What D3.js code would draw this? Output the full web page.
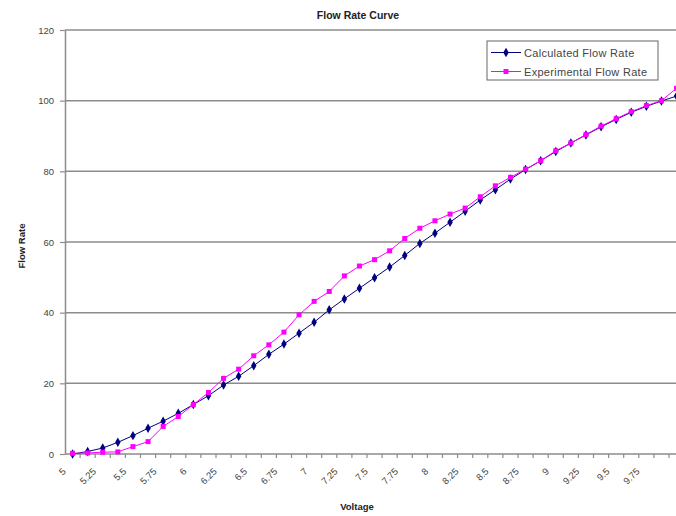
<!DOCTYPE html>
<html>
<head>
<meta charset="utf-8">
<script src="https://cdn.jsdelivr.net/npm/d3@7"></script>
<style>
  html, body { margin: 0; padding: 0; background: #fff; overflow: hidden; }
  svg { display: block; font-family: "Liberation Sans", Arial, sans-serif; }
</style>
</head>
<body>
<script>
// Voltage steps (0.125 V apart)
const voltages = d3.range(41).map(i => 5 + i * 0.125);

// Calculated flow rate per voltage step
const calculated = [0, 0.7, 1.7, 3.3, 5.2, 7.3, 9.3, 11.5, 14, 16.5,
  19.5, 22, 25, 28.2, 31.1, 34.2, 37.3, 40.8, 43.9, 46.9,
  49.9, 52.9, 56.2, 59.6, 62.5, 65.6, 68.7, 71.9, 74.8, 77.8,
  80.5, 83, 85.6, 88, 90.3, 92.6, 94.7, 96.7, 98.4, 99.9, 101.3];

// Measured flow rate per voltage step
const experimental = [0.2, 0.3, 0.5, 0.6, 2.1, 3.5, 7.8, 10.6, 14, 17.4,
  21.4, 24, 27.8, 30.9, 34.5, 39.4, 43.2, 46, 50.4, 53.2,
  55, 57.5, 61, 63.9, 66, 67.9, 69.6, 72.8, 75.9, 78.3,
  80.6, 83, 85.8, 88, 90.4, 92.8, 94.9, 96.9, 98.6, 100, 103.5];

// Axis labels shown on the category axis
const xTickLabels = ["5", "5.25", "5.5", "5.75", "6", "6.25", "6.5", "6.75", "7", "7.25",
  "7.5", "7.75", "8", "8.25", "8.5", "8.75", "9", "9.25", "9.5", "9.75"];
const yTicks = [0, 20, 40, 60, 80, 100, 120];

const W = 676, H = 516;
const plotLeft = 65, plotTop = 30, plotBottom = 454;
const step = 15.1;
const plotRight = plotLeft + step * voltages.length;

const svg = d3.select("body").append("svg")
  .attr("width", W).attr("height", H);

const x = d3.scaleBand()
  .domain(voltages.map(String))
  .range([plotLeft, plotRight])
  .paddingInner(0).paddingOuter(0);

const y = d3.scaleLinear().domain([0, 120]).range([plotBottom, plotTop]);

const grey = "#8c8c8c";

// Horizontal gridlines
svg.append("g").selectAll("line")
  .data(yTicks.filter(d => d > 0))
  .join("line")
  .attr("x1", plotLeft).attr("x2", plotRight)
  .attr("y1", d => y(d)).attr("y2", d => y(d))
  .attr("stroke", grey).attr("stroke-width", 1.5);

// Value axis
const yAxis = svg.append("g")
  .attr("transform", `translate(${plotLeft},0)`)
  .call(d3.axisLeft(y).tickValues(yTicks).tickSize(5).tickPadding(6).tickSizeOuter(0));
yAxis.select(".domain").attr("stroke", grey).attr("stroke-width", 1.5);
yAxis.selectAll(".tick line").attr("stroke", grey).attr("stroke-width", 1.2);
yAxis.selectAll(".tick text")
  .attr("font-size", "9.5px").attr("fill", "#444")
  .attr("font-family", "Liberation Sans, Arial, sans-serif");

// Category axis line and tick marks at category boundaries
svg.append("line")
  .attr("x1", plotLeft).attr("x2", plotRight)
  .attr("y1", plotBottom).attr("y2", plotBottom)
  .attr("stroke", grey).attr("stroke-width", 1.5);

svg.append("g").selectAll("line")
  .data(voltages.map(String))
  .join("line")
  .attr("x1", d => x(d) + x.bandwidth()).attr("x2", d => x(d) + x.bandwidth())
  .attr("y1", plotBottom).attr("y2", plotBottom + 4)
  .attr("stroke", grey).attr("stroke-width", 1.2);

// Rotated category labels, every second category
const cx = v => x(String(v)) + x.bandwidth() / 2;
svg.append("g").selectAll("text")
  .data(xTickLabels)
  .join("text")
  .attr("transform", d => `translate(${cx(+d) - 6},${plotBottom + 18}) rotate(-45)`)
  .attr("text-anchor", "end")
  .attr("font-size", "9.5px")
  .attr("fill", "#444")
  .text(d => d);

// Series lines and markers
const line = d3.line()
  .x((d, i) => cx(voltages[i]))
  .y(d => y(d));

const navy = "#000080", magenta = "#ff00ff";

svg.append("path")
  .datum(calculated)
  .attr("d", line)
  .attr("fill", "none").attr("stroke", navy).attr("stroke-width", 1);

svg.append("g").selectAll("path")
  .data(calculated)
  .join("path")
  .attr("d", d3.symbol(d3.symbolDiamond, 26))
  .attr("transform", (d, i) => `translate(${cx(voltages[i])},${y(d)})`)
  .attr("fill", navy);

svg.append("path")
  .datum(experimental)
  .attr("d", line)
  .attr("fill", "none").attr("stroke", magenta).attr("stroke-width", 1);

svg.append("g").selectAll("rect")
  .data(experimental)
  .join("rect")
  .attr("x", (d, i) => cx(voltages[i]) - 2.5)
  .attr("y", d => y(d) - 2.5)
  .attr("width", 5).attr("height", 5)
  .attr("fill", magenta);

// Titles
svg.append("text")
  .attr("x", 358).attr("y", 19)
  .attr("text-anchor", "middle")
  .attr("font-size", "10.5px").attr("font-weight", "bold").attr("fill", "#222")
  .text("Flow Rate Curve");

svg.append("text")
  .attr("x", 357).attr("y", 510)
  .attr("text-anchor", "middle")
  .attr("font-size", "9.5px").attr("font-weight", "bold").attr("fill", "#222")
  .text("Voltage");

svg.append("text")
  .attr("transform", `translate(25,${(plotTop + plotBottom) / 2 + 4}) rotate(-90)`)
  .attr("text-anchor", "middle")
  .attr("font-size", "9.5px").attr("font-weight", "bold").attr("fill", "#222")
  .text("Flow Rate");

// Legend
const legend = svg.append("g").attr("transform", "translate(487,41)");
legend.append("rect")
  .attr("width", 171).attr("height", 39)
  .attr("fill", "#fff").attr("stroke", "#666").attr("stroke-width", 1);

const entries = [
  { name: "Calculated Flow Rate", color: navy, marker: "diamond" },
  { name: "Experimental Flow Rate", color: magenta, marker: "square" }
];
const row = legend.selectAll("g.entry")
  .data(entries)
  .join("g")
  .attr("class", "entry")
  .attr("transform", (d, i) => `translate(0,${11.5 + i * 19})`);
row.append("line")
  .attr("x1", 4).attr("x2", 34)
  .attr("stroke", d => d.color).attr("stroke-width", 1);
row.append("path")
  .attr("transform", "translate(19,0)")
  .attr("d", d => d.marker === "diamond"
    ? d3.symbol(d3.symbolDiamond, 26)()
    : d3.symbol(d3.symbolSquare, 25)())
  .attr("fill", d => d.color);
row.append("text")
  .attr("x", 37).attr("y", 4)
  .attr("font-size", "11px").attr("fill", "#444")
  .attr("letter-spacing", "0.3px")
  .text(d => d.name);
</script>
</body>
</html>
